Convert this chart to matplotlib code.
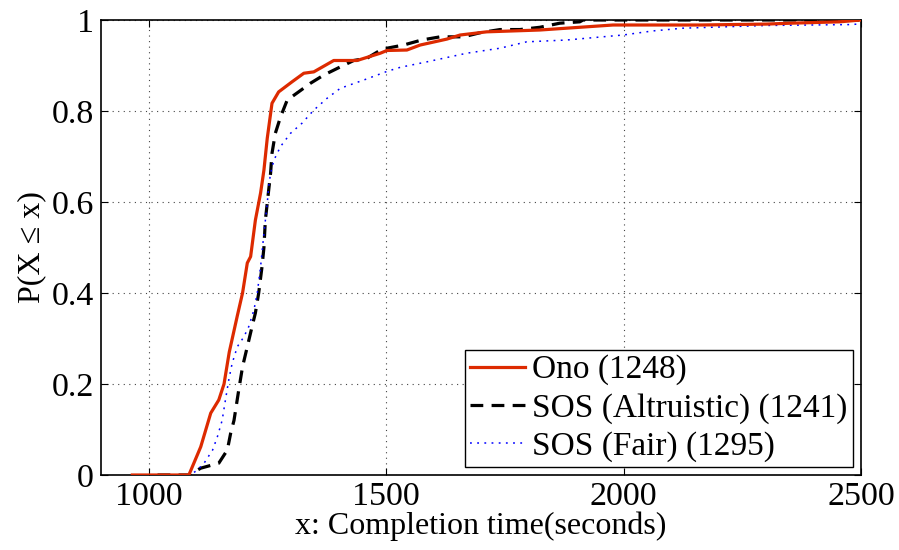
import matplotlib
matplotlib.use("Agg")
import matplotlib.pyplot as plt

plt.rcParams['font.family'] = ['Liberation Serif', 'DejaVu Serif']
plt.rcParams['mathtext.fontset'] = 'stix'

ono_x = [966, 1085, 1110, 1131, 1148, 1159, 1170, 1187, 1198, 1208, 1215, 1225, 1236, 1243, 1250,
         1260, 1274, 1302, 1327, 1348, 1390, 1439, 1488, 1502, 1544, 1572, 1628, 1656, 1712, 1824,
         1978, 2160, 2300, 2353, 2455, 2500]
ono_y = [0, 0, 0.062, 0.136, 0.165, 0.20, 0.27, 0.35, 0.40, 0.466, 0.48, 0.56, 0.62, 0.67, 0.74,
         0.817, 0.842, 0.864, 0.883, 0.886, 0.911, 0.911, 0.927, 0.933, 0.934, 0.945, 0.958, 0.967,
         0.974, 0.978, 0.989, 0.989, 0.991, 0.993, 0.996, 1.0]

alt_x = [1019, 1085, 1110, 1148, 1166, 1173, 1180, 1190, 1198, 1208, 1218, 1225, 1232, 1239, 1243,
         1246, 1253, 1257, 1260, 1267, 1278, 1292, 1316, 1341, 1369, 1404, 1432, 1460, 1495, 1502,
         1537, 1575, 1614, 1663, 1698, 1740, 1782, 1824, 1866, 1908, 1915, 2500]
alt_y = [0, 0, 0.015, 0.026, 0.055, 0.092, 0.12, 0.187, 0.238, 0.282, 0.326, 0.356, 0.40, 0.458, 0.50,
         0.56, 0.626, 0.663, 0.707, 0.751, 0.787, 0.824, 0.842, 0.861, 0.879, 0.897, 0.911, 0.916, 0.938, 0.938,
         0.945, 0.956, 0.963, 0.963, 0.972, 0.979, 0.979, 0.984, 0.993, 0.996, 1.0, 1.0]

fair_x = [1022, 1088, 1103, 1117, 1135, 1145, 1155, 1162, 1169, 1176, 1187, 1201, 1211, 1222, 1229,
          1236, 1243, 1250, 1253, 1257, 1264, 1278, 1299, 1323, 1348, 1376, 1404, 1453, 1502, 1530,
          1586, 1670, 1740, 1796, 1880, 1999, 2062, 2125, 2301, 2482, 2500]
fair_y = [0, 0, 0.011, 0.026, 0.055, 0.084, 0.12, 0.165, 0.209, 0.245, 0.282, 0.304, 0.326, 0.363, 0.40,
          0.458, 0.531, 0.597, 0.634, 0.663, 0.692, 0.722, 0.751, 0.773, 0.802, 0.828, 0.85, 0.868, 0.887, 0.896,
          0.908, 0.927, 0.938, 0.952, 0.956, 0.967, 0.976, 0.982, 0.988, 0.99, 0.992]

labels = ['Ono (1248)', 'SOS (Altruistic) (1241)', 'SOS (Fair) (1295)']
xticks = [1000, 1500, 2000, 2500]
yticks = [0, 0.2, 0.4, 0.6, 0.8, 1]
ytick_labels = ['0', '0.2', '0.4', '0.6', '0.8', '1']

fig = plt.figure(figsize=(8.99, 5.5), dpi=100)
ax = fig.add_axes([101/899, 1-475/550, (861-101)/899, (475-20)/550])

ax.plot(ono_x, ono_y, color='#dd2a00', lw=2.3, label=labels[0], zorder=3)
ax.plot(alt_x, alt_y, color='black', lw=2.3, linestyle=(0, (4, 2.6)), label=labels[1], zorder=2)
ax.plot(fair_x, fair_y, color='#0000ff', lw=1.1, linestyle=(0, (1.2, 3.5)), label=labels[2], zorder=2)

ax.set_xlim(900, 2500)
ax.set_ylim(0, 1)
ax.set_xticks(xticks)
ax.set_xticklabels([str(t) for t in xticks])
ax.set_yticks(yticks)
ax.set_yticklabels(ytick_labels)
ax.tick_params(direction='in', length=5, width=0.8, top=True, right=True, labelsize=24.5, pad=5)
ax.grid(True, linestyle=(0, (1, 4)), color='#444444', linewidth=0.8)
for s in ax.spines.values():
    s.set_linewidth(1.2)

ax.set_xlabel('x: Completion time(seconds)', fontsize=23, labelpad=-1)
ax.set_ylabel('P(X \u2264 x)', fontsize=23, labelpad=4)

leg = ax.legend(loc='lower right', fontsize=24, frameon=True, fancybox=False, edgecolor='black',
                framealpha=1, borderaxespad=0.25, handlelength=1.65, handletextpad=0.22,
                labelspacing=0.22, borderpad=0.15)
leg.get_frame().set_linewidth(1.0)

fig.savefig('out.png', dpi=100)
